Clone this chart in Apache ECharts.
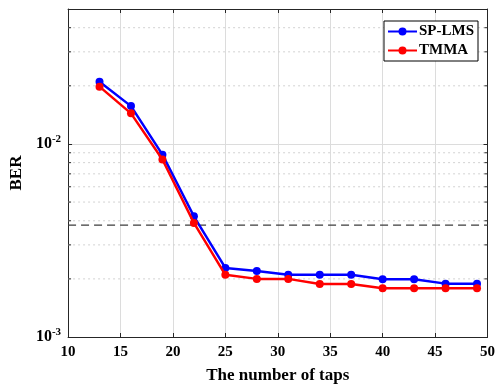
<!DOCTYPE html>
<html><head><meta charset="utf-8">
<script src="https://cdn.jsdelivr.net/npm/echarts@6/dist/echarts.min.js"></script>
<style>html,body{margin:0;padding:0;background:#fff}#c{width:498px;height:389px}</style>
</head><body><div id="c"></div>
<script>
const taps = [13, 16, 19, 22, 25, 28, 31, 34, 37, 40, 43, 46, 49];
const spLms = [0.0210, 0.0157, 0.0088, 0.00422, 0.00228, 0.00220, 0.00210, 0.00210, 0.00210, 0.00199, 0.00199, 0.00189, 0.00189];
const tmma = [0.0198, 0.0144, 0.0083, 0.00390, 0.00210, 0.00200, 0.00200, 0.00188, 0.00188, 0.00179, 0.00179, 0.00179, 0.00179];
const threshold = 0.0038;
const minorGrid = [0.002, 0.003, 0.004, 0.005, 0.006, 0.007, 0.008, 0.009, 0.02, 0.03, 0.04];
const xMin = 10, xMax = 50;

const FONT = '"Liberation Serif", "Times New Roman", serif';
const axisCol = '#262626';
const chart = echarts.init(document.getElementById('c'));

function ylab(v) {
  const e = Math.round(Math.log10(v));
  if (Math.abs(Math.log10(v) - e) > 1e-6) return '';
  return '{b|10}{s|' + e + '}';
}

chart.setOption({
  animation: false,
  backgroundColor: '#fff',
  grid: { left: 67, right: 9, top: 9, bottom: 51 },
  legend: {
    right: 20, top: 21, orient: 'vertical',
    backgroundColor: '#fff', borderColor: '#000', borderWidth: 1, borderRadius: 0,
    padding: [3, 4, 3, 3], itemGap: 4, itemWidth: 29, itemHeight: 10,
    textStyle: { fontFamily: FONT, fontWeight: 'bold', fontSize: 15, color: '#000', padding: [0, 0, 0, -3] },
    data: ['SP-LMS', 'TMMA']
  },
  xAxis: [{
    type: 'value', min: xMin, max: xMax, interval: 5,
    name: 'The number of taps', nameLocation: 'middle', nameGap: 30,
    nameTextStyle: { fontFamily: FONT, fontWeight: 'bold', fontSize: 17, color: '#000' },
    axisLine: { show: true, lineStyle: { color: axisCol, width: 1 } },
    axisTick: { show: true, inside: true, length: 4, lineStyle: { color: axisCol } },
    axisLabel: { fontFamily: FONT, fontWeight: 'bold', fontSize: 15, color: '#000', margin: 8 },
    splitLine: { show: true, lineStyle: { color: '#dcdcdc', width: 1 } }
  }, {
    type: 'value', min: xMin, max: xMax, interval: 5, position: 'top',
    axisLine: { show: true, lineStyle: { color: axisCol, width: 1 } },
    axisTick: { show: true, inside: true, length: 4, lineStyle: { color: axisCol } },
    axisLabel: { show: false }, splitLine: { show: false }
  }],
  yAxis: [{
    type: 'log', logBase: 10, min: 0.001, max: 0.05,
    name: 'BER', nameLocation: 'middle', nameGap: 39,
    nameTextStyle: { fontFamily: FONT, fontWeight: 'bold', fontSize: 17, color: '#000' },
    axisLine: { show: true, lineStyle: { color: axisCol, width: 1 } },
    axisTick: { show: true, inside: true, length: 4, lineStyle: { color: axisCol } },
    axisLabel: {
      formatter: ylab, margin: 7,
      rich: {
        b: { fontFamily: FONT, fontWeight: 'bold', fontSize: 16, color: '#000' },
        s: { fontFamily: FONT, fontWeight: 'bold', fontSize: 11, color: '#000', padding: [0, 0, 9, 0] }
      }
    },
    splitLine: { show: true, lineStyle: { color: '#dcdcdc', width: 1 } }
  }, {
    type: 'log', logBase: 10, min: 0.001, max: 0.05, position: 'right',
    axisLine: { show: true, lineStyle: { color: axisCol, width: 1 } },
    axisTick: { show: true, inside: true, length: 4, lineStyle: { color: axisCol } },
    axisLabel: { show: false }, splitLine: { show: false }
  }],
  series: [{
    name: 'grid-minor', type: 'custom', silent: true, z: 1,
    data: minorGrid.map(v => [xMin, v]),
    encode: { x: 0, y: 1 },
    renderItem: function (params, api) {
      const a = api.coord([xMin, api.value(1)]);
      const b = api.coord([xMax, api.value(1)]);
      return { type: 'group', children: [
        { type: 'line', shape: { x1: a[0], y1: a[1], x2: b[0], y2: b[1] },
          style: { stroke: '#d2d2d2', lineWidth: 1, lineDash: [2, 3] } },
        { type: 'line', shape: { x1: b[0] - 3, y1: b[1], x2: b[0], y2: b[1] }, style: { stroke: axisCol, lineWidth: 1 } },
        { type: 'line', shape: { x1: a[0], y1: a[1], x2: a[0] + 3, y2: a[1] }, style: { stroke: axisCol, lineWidth: 1 } }
      ] };
    }
  }, {
    name: 'threshold', type: 'custom', silent: true, z: 2,
    data: [[xMin, threshold]],
    encode: { x: 0, y: 1 },
    renderItem: function (params, api) {
      const a = api.coord([xMin, api.value(1)]);
      const b = api.coord([xMax, api.value(1)]);
      return { type: 'line', shape: { x1: a[0], y1: a[1], x2: b[0], y2: b[1] },
        style: { stroke: '#3c3c3c', lineWidth: 1.2, lineDash: [8, 5] } };
    }
  }, {
    name: 'SP-LMS', type: 'line', data: taps.map((t, i) => [t, spLms[i]]), z: 3,
    color: '#0000ff', lineStyle: { width: 2.5, color: '#0000ff' },
    symbol: 'circle', symbolSize: 8, itemStyle: { color: '#0000ff' }
  }, {
    name: 'TMMA', type: 'line', data: taps.map((t, i) => [t, tmma[i]]), z: 4,
    color: '#ff0000', lineStyle: { width: 2.5, color: '#ff0000' },
    symbol: 'circle', symbolSize: 8, itemStyle: { color: '#ff0000' }
  }]
});
</script></body></html>
